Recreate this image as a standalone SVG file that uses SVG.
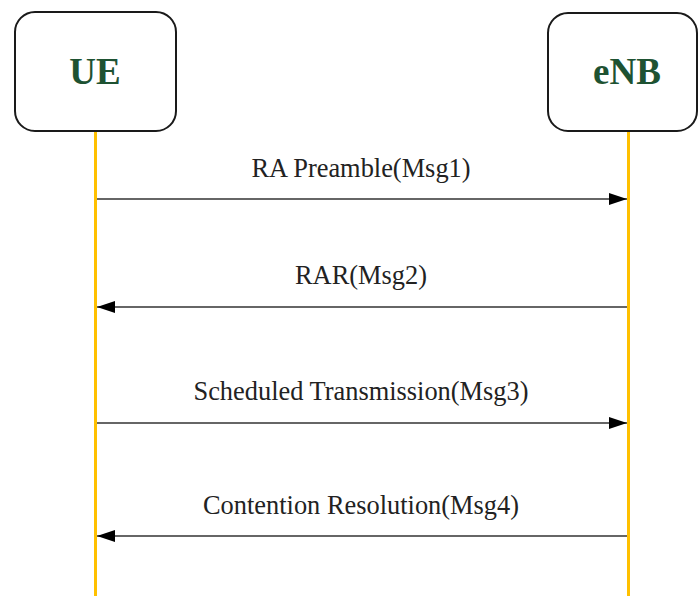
<svg xmlns="http://www.w3.org/2000/svg" width="699" height="596" viewBox="0 0 699 596">
  <style>
    .box { fill: #ffffff; stroke: #1a1a1a; stroke-width: 2; }
    .name { font-family: "Liberation Serif", serif; font-weight: bold; font-size: 37px; fill: #1e5232; text-anchor: middle; }
    .life { stroke: #ffc000; stroke-width: 3; }
    .msg { stroke: #333333; stroke-width: 1.6; fill: none; }
    .lbl { font-family: "Liberation Serif", serif; font-size: 26.4px; fill: #222222; text-anchor: middle; }
  </style>
  <defs>
    <marker id="head" viewBox="0 0 18 12" refX="18" refY="6" markerWidth="18" markerHeight="12" markerUnits="userSpaceOnUse" orient="auto">
      <path d="M0,0 L18,6 L0,12 Z" fill="#000000"/>
    </marker>
  </defs>

  <!-- lifelines -->
  <g id="lifelines">
    <line class="life" x1="95.5" y1="131" x2="95.5" y2="596"/>
    <line class="life" x1="628.5" y1="131" x2="628.5" y2="596"/>
  </g>

  <g id="ue">
    <rect class="box" x="15" y="12" width="161" height="119" rx="20" ry="20"/>
    <text class="name" x="95" y="84">UE</text>
  </g>

  <g id="enb">
    <rect class="box" x="548" y="13" width="149" height="118" rx="20" ry="20"/>
    <text class="name" x="627" y="84">eNB</text>
  </g>

  <!-- message arrows -->
  <g id="connectors">
    <line class="msg" x1="97" y1="199" x2="627" y2="199" marker-end="url(#head)"/>
    <line class="msg" x1="627" y1="307" x2="97" y2="307" marker-end="url(#head)"/>
    <line class="msg" x1="97" y1="423" x2="627" y2="423" marker-end="url(#head)"/>
    <line class="msg" x1="627" y1="536" x2="97" y2="536" marker-end="url(#head)"/>
  </g>

  <g id="labels">
    <text class="lbl" x="361" y="177">RA Preamble(Msg1)</text>
    <text class="lbl" x="361" y="284">RAR(Msg2)</text>
    <text class="lbl" x="361" y="400">Scheduled Transmission(Msg3)</text>
    <text class="lbl" x="361" y="514">Contention Resolution(Msg4)</text>
  </g>
</svg>
